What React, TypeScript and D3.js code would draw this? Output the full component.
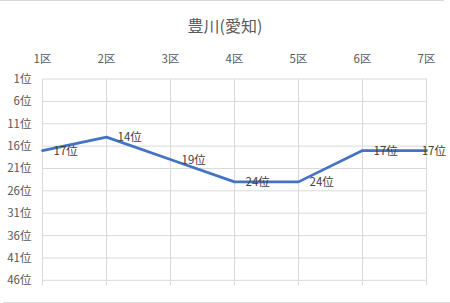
import React from "react";
import * as d3 from "d3";

const categories = ["1区", "2区", "3区", "4区", "5区", "6区", "7区"];
const ranks = [17, 14, 19, 24, 24, 17, 17];
const yTicks = [1, 6, 11, 16, 21, 26, 31, 36, 41, 46];
const title = "豊川(愛知)";

const W = 450;
const H = 303;
const FONT = "'Noto Sans CJK JP', 'Noto Sans', sans-serif";

export default function App() {
  const x = d3.scalePoint<string>().domain(categories).range([42.5, 426.5]);
  const y = d3.scaleLinear().domain([1, 46]).range([79, 280.3]);
  const line = d3
    .line<number>()
    .x((_, i) => x(categories[i]) as number)
    .y((d) => y(d));
  const labelW = 24;

  return (
    <div style={{ position: "fixed", left: 0, top: 0 }}>
      <svg width={W} height={H} style={{ display: "block", background: "#fff" }}>
        <line x1={0} x2={444} y1={0.5} y2={0.5} stroke="#d9d9d9" />
        <line x1={3} x2={W} y1={302.5} y2={302.5} stroke="#d9d9d9" />
        <text x={225} y={32} textAnchor="middle" fontFamily={FONT} fontSize={16} fill="#595959">
          {title}
        </text>
        {yTicks.map((t) => (
          <g key={t}>
            <line x1={x(categories[0])} x2={x(categories[categories.length - 1])} y1={y(t)} y2={y(t)} stroke="#d9d9d9" strokeWidth={1} />
            <text x={31.5} y={y(t)} dy="0.35em" textAnchor="end" fontFamily={FONT} fontSize={11.5} fill="#595959">
              {t}位
            </text>
          </g>
        ))}
        {categories.map((c) => (
          <g key={c}>
            <line x1={x(c)} x2={x(c)} y1={y(1)} y2={y(46) + 5} stroke="#d9d9d9" strokeWidth={1} />
            <text x={x(c)} y={63} textAnchor="middle" fontFamily={FONT} fontSize={11.5} fill="#595959">
              {c}
            </text>
          </g>
        ))}
        <path d={line(ranks) || ""} fill="none" stroke="#4472C4" strokeWidth={2.75} strokeLinejoin="round" strokeLinecap="round" />
        {ranks.map((r, i) => {
          const px = (x(categories[i]) as number) + 11;
          const clamp = px + labelW > W - 4;
          return (
            <text
              key={i}
              x={clamp ? W - 4 : px}
              y={y(r)}
              dy="0.35em"
              textAnchor={clamp ? "end" : "start"}
              fontFamily={FONT}
              fontSize={11.5}
              fill="#404040"
            >
              {r}位
            </text>
          );
        })}
      </svg>
    </div>
  );
}
